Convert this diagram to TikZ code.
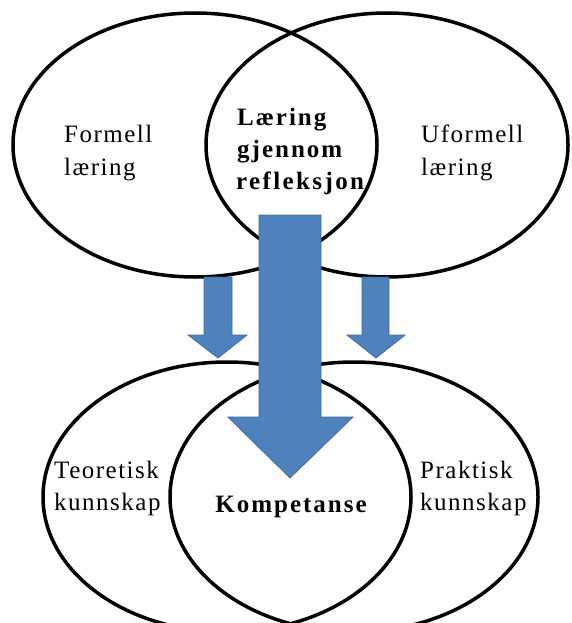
\documentclass[tikz,border=0pt]{standalone}
\usepackage{fontspec}
\setmainfont{Liberation Serif}
\newfontfamily\labelserif[LetterSpace=6]{Liberation Serif}
\newfontfamily\keyserif[LetterSpace=8]{Liberation Serif}
\newfontfamily\keyserifwide[LetterSpace=9.5]{Liberation Serif}
\usetikzlibrary{shapes.geometric}
\definecolor{arrowblue}{HTML}{4F81BD}
\definecolor{arrowedge}{HTML}{3E6CA2}

\begin{document}
\begin{tikzpicture}[x=1pt,y=-1pt,
  ring/.style={ellipse, draw=black, line width=3.5pt, inner sep=0pt, outer sep=0pt},
  plainlabel/.style={font=\labelserif\fontsize{25}{30}\selectfont, inner sep=0pt, anchor=base west},
  keylabel/.style={font=\keyserif\bfseries\fontsize{25}{30}\selectfont, inner sep=0pt, anchor=base west},
  blockarrow/.style={fill=arrowblue, draw=arrowedge, line width=0.8pt, line join=miter}]
\path[fill=white] (0,0) rectangle (571,623);
\clip (0,0) rectangle (571,623);

% two kinds of learning
\node[ring, minimum width=364pt, minimum height=264pt] (formell) at (195,145) {};
\node[ring, minimum width=362pt, minimum height=264pt] (uformell) at (387,145) {};

% two kinds of knowledge
\node[ring, minimum width=368pt, minimum height=270pt] (teori) at (227,497) {};
\node[ring, minimum width=368pt, minimum height=270pt] (praksis) at (354,497) {};

% labels, one node per line, placed on their baselines
\node[plainlabel] (formellA) at (64,142) {Formell};
\node[plainlabel] (formellB) at (64,175) {læring};
\node[plainlabel] (uformellA) at (421,142) {Uformell};
\node[plainlabel] (uformellB) at (421,175) {læring};
\node[keylabel] (refleksjonA) at (237,125) {Læring};
\node[keylabel] (refleksjonB) at (237,157) {gjennom};
\node[keylabel, font=\keyserifwide\bfseries\fontsize{25}{30}\selectfont] (refleksjonC) at (236,189) {refleksjon};
\node[plainlabel] (teoriA) at (54,478) {Teoretisk};
\node[plainlabel] (teoriB) at (54,510) {kunnskap};
\node[plainlabel] (praksisA) at (420,478) {Praktisk};
\node[plainlabel] (praksisB) at (420,510) {kunnskap};
\node[keylabel, anchor=base] (kompetanse) at (291,512) {Kompetanse};

% block arrows
\draw[blockarrow] (259,215) -- (321,215) -- (321,417) -- (353,417) -- (290,478)
  -- (228,417) -- (259,417) -- cycle;
\draw[blockarrow] (204,277) -- (232,277) -- (232,335) -- (247,335) -- (218,358)
  -- (188,335) -- (204,335) -- cycle;
\draw[blockarrow] (362,277) -- (389,277) -- (389,335) -- (405,335) -- (376,358)
  -- (347,335) -- (362,335) -- cycle;
\end{tikzpicture}
\end{document}
